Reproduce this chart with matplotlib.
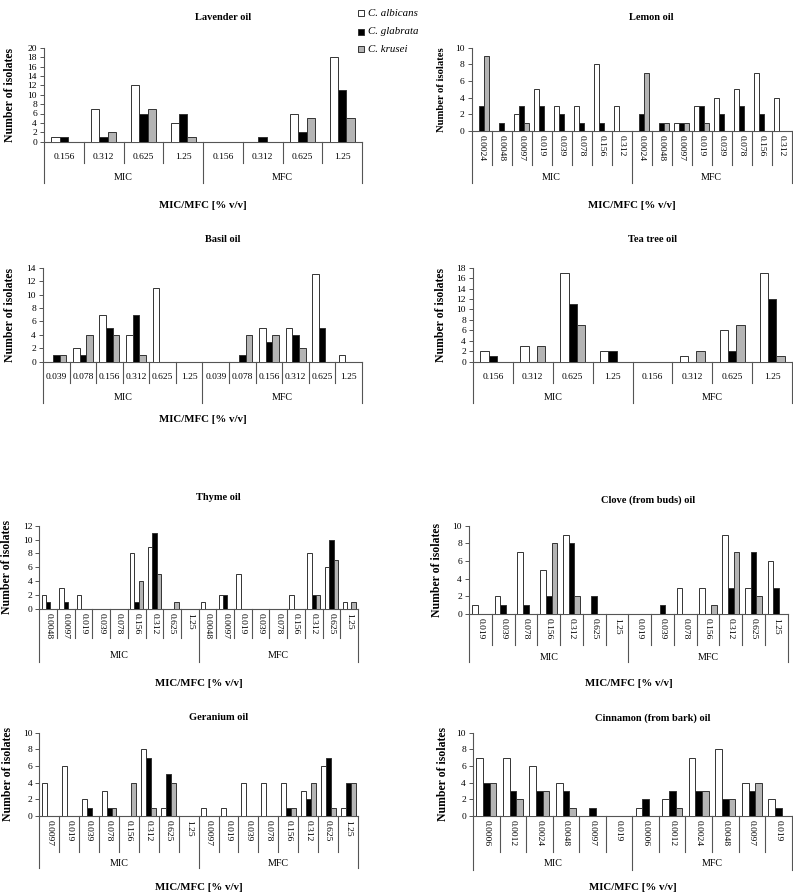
import matplotlib
matplotlib.use("Agg")
import matplotlib.pyplot as plt
import matplotlib.transforms as mtransforms
from matplotlib.patches import Rectangle

plt.rcParams['font.family'] = ['Liberation Serif', 'DejaVu Serif']

W, H = 793, 894

species = ['C. albicans', 'C. glabrata', 'C. krusei']
colors = ['white', 'black', '#b4b4b4']

# Lavender oil
lav_cats = ['0.156', '0.312', '0.625', '1.25']
lav_mic = [[1, 7, 12, 4], [1, 1, 6, 6], [0, 2, 7, 1]]
lav_mfc = [[0, 0, 6, 18], [0, 1, 2, 11], [0, 0, 5, 5]]

# Lemon oil
lem_cats = ['0.0024', '0.0048', '0.0097', '0.019', '0.039', '0.078', '0.156', '0.312']
lem_mic = [[0, 0, 2, 5, 3, 3, 8, 3], [3, 1, 3, 3, 2, 1, 1, 0], [9, 0, 1, 0, 0, 0, 0, 0]]
lem_mfc = [[0, 0, 1, 3, 4, 5, 7, 4], [2, 1, 1, 3, 2, 3, 2, 0], [7, 1, 1, 1, 0, 0, 0, 0]]

# Basil oil
bas_cats = ['0.039', '0.078', '0.156', '0.312', '0.625', '1.25']
bas_mic = [[0, 2, 7, 4, 11, 0], [1, 1, 5, 7, 0, 0], [1, 4, 4, 1, 0, 0]]
bas_mfc = [[0, 0, 5, 5, 13, 1], [0, 1, 3, 4, 5, 0], [0, 4, 4, 2, 0, 0]]

# Tea tree oil
tea_cats = ['0.156', '0.312', '0.625', '1.25']
tea_mic = [[2, 3, 17, 2], [1, 0, 11, 2], [0, 3, 7, 0]]
tea_mfc = [[0, 1, 6, 17], [0, 0, 2, 12], [0, 2, 7, 1]]

# Thyme oil
thy_cats = ['0.0048', '0.0097', '0.019', '0.039', '0.078', '0.156', '0.312', '0.625', '1.25']
thy_mic = [[2, 3, 2, 0, 0, 8, 9, 0, 0], [1, 1, 0, 0, 0, 1, 11, 0, 0], [0, 0, 0, 0, 0, 4, 5, 1, 0]]
thy_mfc = [[1, 2, 5, 0, 0, 2, 8, 6, 1], [0, 2, 0, 0, 0, 0, 2, 10, 0], [0, 0, 0, 0, 0, 0, 2, 7, 1]]

# Clove (from buds) oil
clo_cats = ['0.019', '0.039', '0.078', '0.156', '0.312', '0.625', '1.25']
clo_mic = [[1, 2, 7, 5, 9, 0, 0], [0, 1, 1, 2, 8, 2, 0], [0, 0, 0, 8, 2, 0, 0]]
clo_mfc = [[0, 0, 3, 3, 9, 3, 6], [0, 1, 0, 0, 3, 7, 3], [0, 0, 0, 1, 7, 2, 0]]

# Geranium oil
ger_cats = ['0.0097', '0.019', '0.039', '0.078', '0.156', '0.312', '0.625', '1.25']
ger_mic = [[4, 6, 2, 3, 0, 8, 1, 0], [0, 0, 1, 1, 0, 7, 5, 0], [0, 0, 0, 1, 4, 1, 4, 0]]
ger_mfc = [[1, 1, 4, 4, 4, 3, 6, 1], [0, 0, 0, 0, 1, 2, 7, 4], [0, 0, 0, 0, 1, 4, 1, 4]]

# Cinnamon (from bark) oil
cin_cats = ['0.0006', '0.0012', '0.0024', '0.0048', '0.0097', '0.019']
cin_mic = [[7, 7, 6, 4, 0, 0], [4, 3, 3, 3, 1, 0], [4, 2, 3, 1, 0, 0]]
cin_mfc = [[1, 2, 7, 8, 4, 2], [2, 3, 3, 2, 3, 1], [0, 1, 3, 2, 4, 0]]

LINE = '#555555'
fig = plt.figure(figsize=(W / 100, H / 100), dpi=100)


def fy(y):
    return 1 - y / H


def panel(title, cats, mic, mfc, ymax, box, rotated, bw, xlabel=True, ylab_size=8.5):
    l, r, t, b, tick_b, grp_b, grp_y, xl_y, title_y, yl_x = box
    ax = fig.add_axes([l / W, fy(b), (r - l) / W, (b - t) / H])
    n = len(cats)
    xs = list(range(2 * n))
    for k in range(3):
        vals = mic[k] + mfc[k]
        ax.bar([x + (k - 1) * bw for x in xs], vals, width=bw, color=colors[k],
               edgecolor='#333333', linewidth=0.7, zorder=3)
    ax.set_xlim(-0.5, 2 * n - 0.5)
    ax.set_ylim(0, ymax)
    ax.set_yticks(range(0, ymax + 1, 2))
    ax.tick_params(axis='y', labelsize=6.8, length=3, width=0.7, color=LINE, pad=2)
    ax.set_xticks([])
    for s in ['top', 'right']:
        ax.spines[s].set_visible(False)
    for s in ['left', 'bottom']:
        ax.spines[s].set_color(LINE)
        ax.spines[s].set_linewidth(0.8)

    tr = mtransforms.blended_transform_factory(ax.transData, fig.transFigure)
    # category table under the axis
    for i in range(1, 2 * n):
        bottom = tick_b if i != n else grp_b
        ax.plot([i - 0.5, i - 0.5], [fy(b), fy(bottom)], color=LINE, lw=0.8,
                transform=tr, clip_on=False)
    for x0 in [-0.5, 2 * n - 0.5]:
        ax.plot([x0, x0], [fy(b), fy(grp_b)], color=LINE, lw=0.8,
                transform=tr, clip_on=False)
    for i, lab in enumerate(cats + cats):
        if rotated:
            ax.text(i, fy(b + 4), lab, rotation=-90, ha='center', va='top',
                    fontsize=6.8, transform=tr)
        else:
            ax.text(i, fy(b + 15), lab, ha='center', va='center',
                    fontsize=6.8, transform=tr)
    ax.text((n - 1) / 2, fy(grp_y), 'MIC', ha='center', va='center', fontsize=7.2, transform=tr)
    ax.text(n + (n - 1) / 2, fy(grp_y), 'MFC', ha='center', va='center', fontsize=7.2, transform=tr)

    cx = (l + r) / 2
    fig.text((cx + 20) / W, fy(title_y), title, ha='center', va='center',
             fontsize=7.5, fontweight='bold')
    fig.text(yl_x / W, fy((t + b) / 2), 'Number of isolates', rotation=90,
             ha='center', va='center', fontsize=ylab_size, fontweight='bold')
    if xlabel:
        fig.text(cx / W, fy(xl_y), 'MIC/MFC [% v/v]', ha='center', va='center',
                 fontsize=7.8, fontweight='bold')


panel('Lavender oil', lav_cats, lav_mic, lav_mfc, 20,
      (44, 362, 47.7, 141.7, 163, 183, 177, 205, 17, 10), False, 0.21)
panel('Lemon oil', lem_cats, lem_mic, lem_mfc, 10,
      (471.5, 791.5, 47.7, 131, 165, 183, 177, 205, 17, 441), True, 0.25, ylab_size=7.7)
panel('Basil oil', bas_cats, bas_mic, bas_mfc, 14,
      (43, 362, 267.7, 361.7, 383, 403, 397, 419, 240, 10), False, 0.25)
panel('Tea tree oil', tea_cats, tea_mic, tea_mfc, 18,
      (473, 792, 267.7, 361.7, 383, 403, 397, 419, 240, 441), False, 0.21, xlabel=False)
panel('Thyme oil', thy_cats, thy_mic, thy_mfc, 12,
      (39.3, 358, 525.7, 609, 638, 662, 655, 683, 498, 7), True, 0.25)
panel('Clove (from buds) oil', clo_cats, clo_mic, clo_mfc, 10,
      (469, 787.7, 525.7, 614, 645, 662, 657, 683, 500, 437), True, 0.25)
panel('Geranium oil', ger_cats, ger_mic, ger_mfc, 10,
      (39.3, 358, 732.7, 816, 851.7, 868, 863, 887, 718, 8), True, 0.25)
panel('Cinnamon (from bark) oil', cin_cats, cin_mic, cin_mfc, 10,
      (473, 791.7, 732.7, 816, 851.7, 870, 863, 887, 718, 443), True, 0.25)

# legend
for k, (name, y) in enumerate(zip(species, [13, 32, 49])):
    fig.patches.append(Rectangle((358 / W, fy(y + 3)), 6 / W, 6 / H, transform=fig.transFigure,
                                 facecolor=colors[k], edgecolor='#333333', linewidth=0.7))
    fig.text(368 / W, fy(y), name, ha='left', va='center', fontsize=7.8, style='italic')

fig.savefig('out.png', dpi=100)
